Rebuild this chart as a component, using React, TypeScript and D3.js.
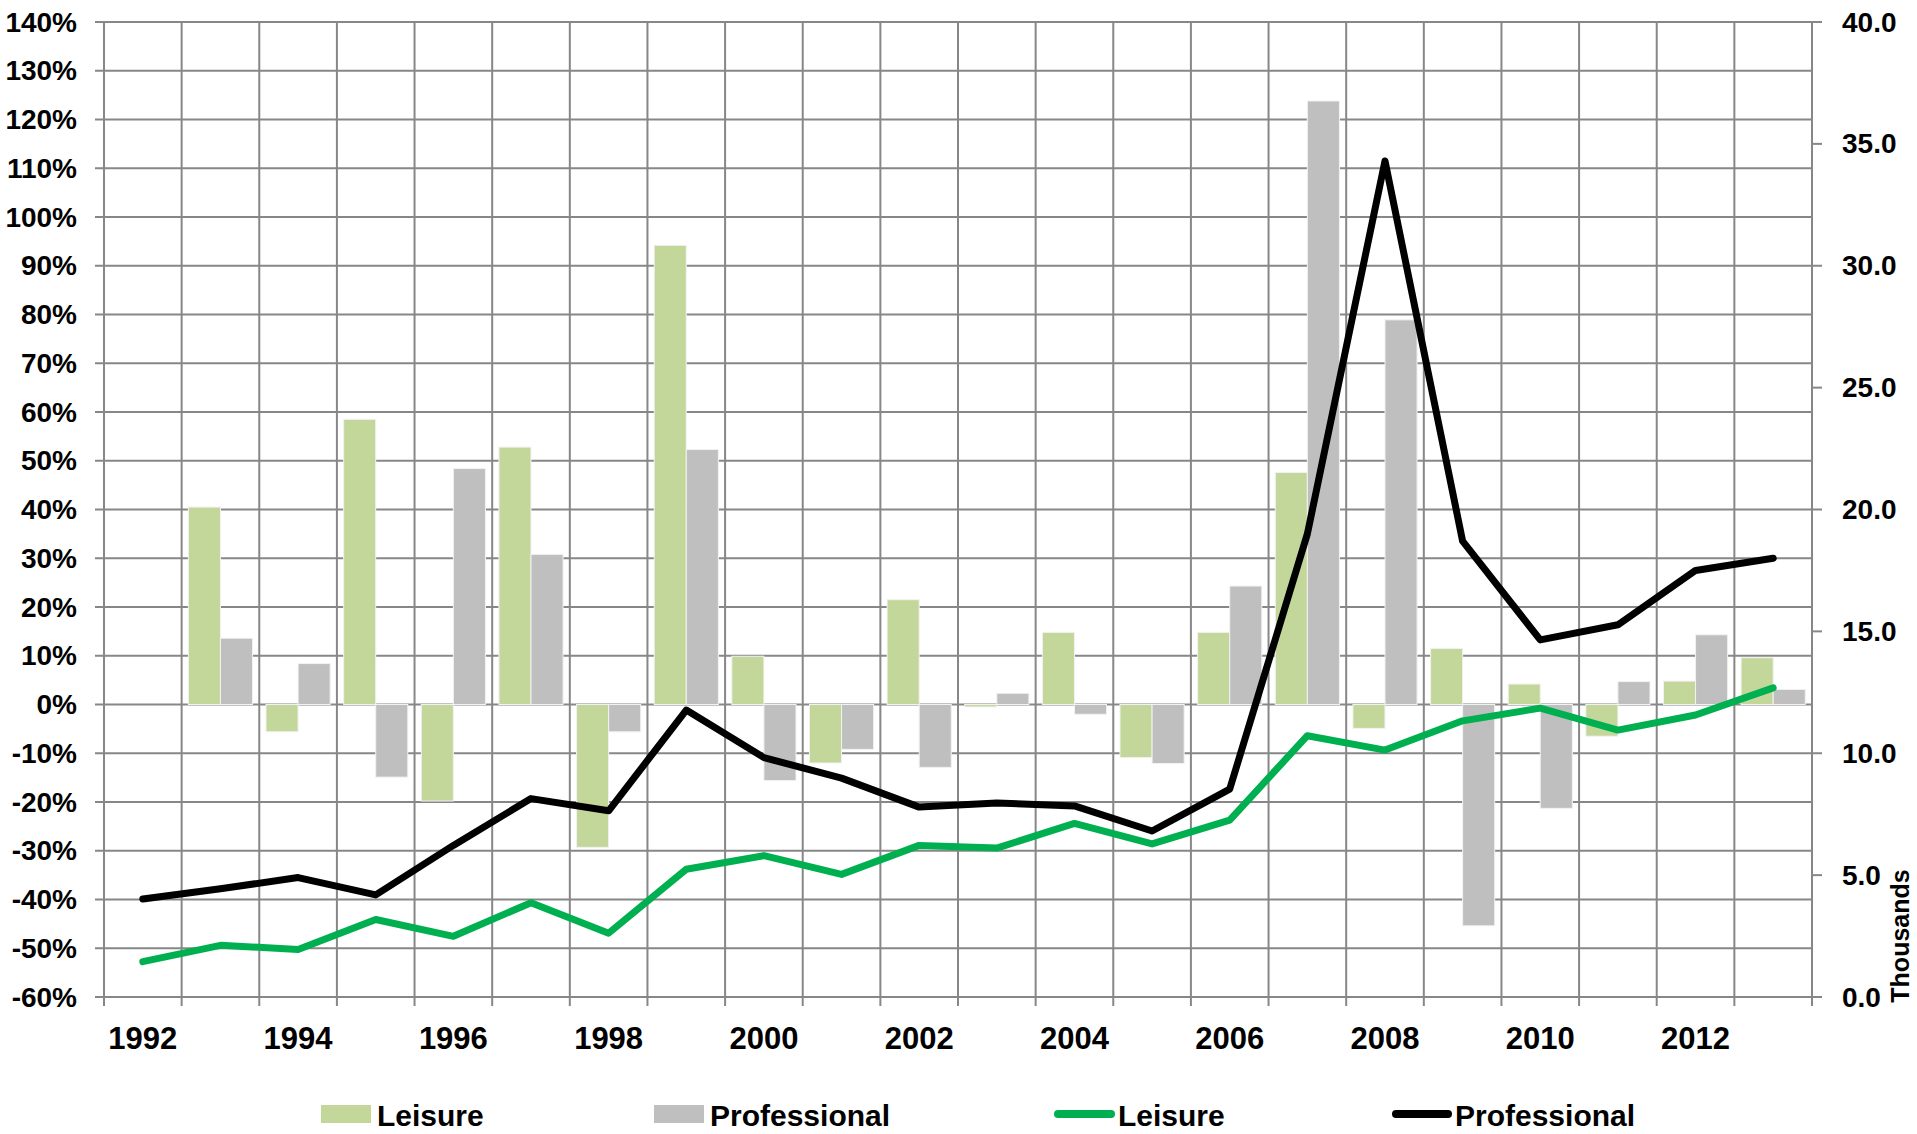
import React from 'react';
import * as d3 from 'd3';

const years = ['1992', '1993', '1994', '1995', '1996', '1997', '1998', '1999', '2000', '2001', '2002',
  '2003', '2004', '2005', '2006', '2007', '2008', '2009', '2010', '2011', '2012', '2013'];

// yearly % change (bars, left axis) - no value for the first year
const leisurePct = [null, 40.5, -5.6, 58.5, -19.8, 52.8, -29.3, 94.2, 9.9, -12.0, 21.5,
  -0.5, 14.8, -10.9, 14.8, 47.6, -4.9, 11.5, 4.2, -6.5, 4.8, 9.6];
const professionalPct = [null, 13.6, 8.4, -14.9, 48.4, 30.8, -5.6, 52.3, -15.6, -9.2, -12.9,
  2.3, -2.0, -12.1, 24.3, 123.8, 78.9, -45.4, -21.3, 4.7, 14.3, 3.1];

// levels in thousands (lines, right axis)
const leisureK = [1.45, 2.12, 1.95, 3.18, 2.49, 3.87, 2.62, 5.24, 5.8, 5.03, 6.22,
  6.11, 7.12, 6.28, 7.26, 10.72, 10.13, 11.33, 11.85, 10.95, 11.57, 12.68];
const professionalK = [4.02, 4.44, 4.9, 4.19, 6.22, 8.14, 7.64, 11.77, 9.82, 8.98, 7.79,
  7.96, 7.84, 6.81, 8.53, 19.0, 34.3, 18.7, 14.65, 15.27, 17.5, 18.0];

const xLabels = ['1992', '1994', '1996', '1998', '2000', '2002', '2004', '2006', '2008', '2010', '2012'];

const W = 1917;
const H = 1134;
const left = 104, right = 1812, top = 22, bottom = 997;
const GRID = '#878787';
const FONT = '"Liberation Sans", Arial, sans-serif';

const App = () => {
  const x = d3.scaleBand().domain(years).range([left, right]).padding(0);
  const xs = d3.scaleBand().domain(['leisure', 'professional'])
    .range([0, x.bandwidth()]).paddingInner(0).paddingOuter(0.21);
  const yL = d3.scaleLinear().domain([-60, 140]).range([bottom, top]);
  const yR = d3.scaleLinear().domain([0, 40]).range([bottom, top]);

  const cx = (d) => x(d) + x.bandwidth() / 2;
  const line = d3.line().x((d) => cx(d[0])).y((d) => yR(d[1]));
  const leisurePath = line(years.map((y, i) => [y, leisureK[i]]));
  const proPath = line(years.map((y, i) => [y, professionalK[i]]));

  const bars = [];
  years.forEach((yr, i) => {
    [['leisure', leisurePct[i], '#C4D79B'], ['professional', professionalPct[i], '#BFBFBF']].forEach(([k, v, c]) => {
      if (v == null) return;
      bars.push(
        <rect key={yr + k} x={x(yr) + xs(k)} width={xs.bandwidth()}
          y={yL(Math.max(0, v))} height={Math.abs(yL(v) - yL(0))}
          fill={c} stroke="#f2f2f2" strokeWidth={1} />
      );
    });
  });

  const leftTicks = yL.ticks(20);
  const rightTicks = yR.ticks(8);
  const bounds = [...years.map((y) => x(y)), right];

  return (
    <svg width={W} height={H} style={{ position: 'absolute', left: 0, top: 0, background: '#fff' }}
      fontFamily={FONT} fontWeight="bold">
      {/* grid */}
      {leftTicks.map((t) => (
        <line key={'h' + t} x1={left - 9} x2={right} y1={yL(t)} y2={yL(t)} stroke={GRID} strokeWidth={2} />
      ))}
      {bounds.map((b, i) => (
        <line key={'v' + i} x1={b} x2={b} y1={top} y2={bottom + 9} stroke={GRID} strokeWidth={2} />
      ))}
      {rightTicks.map((t) => (
        <line key={'rt' + t} x1={right} x2={right + 10} y1={yR(t)} y2={yR(t)} stroke={GRID} strokeWidth={2} />
      ))}

      {bars}

      <path d={leisurePath} fill="none" stroke="#00B050" strokeWidth={7} strokeLinejoin="round" strokeLinecap="round" />
      <path d={proPath} fill="none" stroke="#000" strokeWidth={7} strokeLinejoin="round" strokeLinecap="round" />

      {/* left axis labels */}
      {leftTicks.map((t) => (
        <text key={'lt' + t} x={77} y={yL(t)} textAnchor="end" dominantBaseline="central" fontSize={28}>
          {`${Math.round(t)}%`}
        </text>
      ))}
      {/* right axis labels */}
      {rightTicks.map((t) => (
        <text key={'rl' + t} x={1842} y={yR(t)} textAnchor="start" dominantBaseline="central" fontSize={28}>
          {t.toFixed(1)}
        </text>
      ))}
      <text transform="translate(1909,936) rotate(-90)" textAnchor="middle" fontSize={25}>Thousands</text>

      {/* x labels */}
      {xLabels.map((l) => (
        <text key={l} x={cx(l)} y={1049} textAnchor="middle" fontSize={31}>{l}</text>
      ))}

      {/* legend */}
      <rect x={321} y={1105} width={50} height={18} fill="#C4D79B" />
      <text x={377} y={1126} fontSize={30}>Leisure</text>
      <rect x={654} y={1105} width={50} height={18} fill="#BFBFBF" />
      <text x={710} y={1126} fontSize={30}>Professional</text>
      <line x1={1058} x2={1111} y1={1114} y2={1114} stroke="#00B050" strokeWidth={8} strokeLinecap="round" />
      <text x={1118} y={1126} fontSize={30}>Leisure</text>
      <line x1={1396} x2={1448} y1={1114} y2={1114} stroke="#000" strokeWidth={8} strokeLinecap="round" />
      <text x={1455} y={1126} fontSize={30}>Professional</text>
    </svg>
  );
};

export default App;
